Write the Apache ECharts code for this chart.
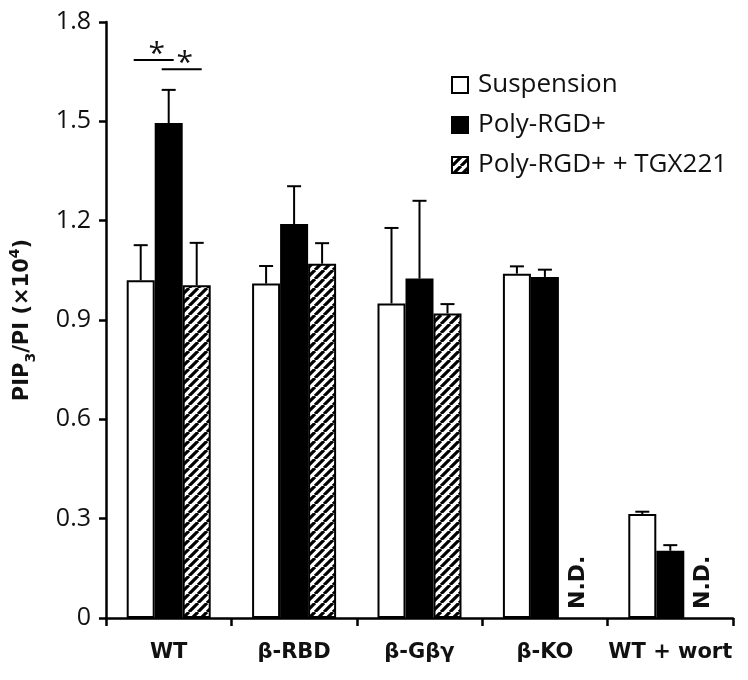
<!DOCTYPE html>
<html><head><meta charset="utf-8">
<script src="https://cdn.jsdelivr.net/npm/echarts@6/dist/echarts.min.js"></script>
<style>html,body{margin:0;padding:0;background:#fff}#c{width:748px;height:680px}</style>
</head><body><div id="c"></div>
<script>
const categories = ['WT', 'β-RBD', 'β-Gβγ', 'β-KO', 'WT + wort'];
const seriesNames = ['Suspension', 'Poly-RGD+', 'Poly-RGD+ + TGX221'];
const suspension = [1.02, 1.01, 0.95, 1.04, 0.314];
const polyRGD = [1.495, 1.19, 1.025, 1.03, 0.203];
const polyRGDTGX = [1.005, 1.07, 0.92, null, null];
const suspensionErr = [0.106, 0.053, 0.228, 0.022, 0.007];
const polyRGDErr = [0.10, 0.114, 0.235, 0.022, 0.017];
const polyRGDTGXErr = [0.128, 0.062, 0.028, null, null];
const yTickLabels = ['0', '0.3', '0.6', '0.9', '1.2', '1.5', '1.8'];
const notDetected = [[3, 2], [4, 2]];          // [category index, series index]
const significance = [[0, 0, 1, 1.685], [0, 1, 2, 1.657]]; // [category, from series, to series, y]

const BAR_W = 28;
const LIGHT = 'Open Sans';
const BOLD = 'DejaVu Sans';

function hatch(size, lw) {
  const c = document.createElement('canvas');
  c.width = size; c.height = size;
  const g = c.getContext('2d');
  g.fillStyle = '#fff'; g.fillRect(0, 0, size, size);
  g.strokeStyle = '#000'; g.lineWidth = lw;
  g.beginPath();
  for (const k of [-size, 0, size]) { g.moveTo(k, size); g.lineTo(k + size, 0); }
  g.stroke();
  return c;
}
const hatchPattern = { image: hatch(9, 3.2), repeat: 'repeat' };

const values = [suspension, polyRGD, polyRGDTGX];
const errors = [suspensionErr, polyRGDErr, polyRGDTGXErr];
const fills = ['#fff', '#000', hatchPattern];

const errData = [];
values.forEach((arr, s) => arr.forEach((v, i) => {
  if (v != null && errors[s][i] != null) errData.push([i, s, v, errors[s][i]]);
}));

const chart = echarts.init(document.getElementById('c'), null, { renderer: 'canvas' });
const option = {
  backgroundColor: '#fff',
  animation: false,
  grid: { left: 106, right: 15, top: 22, bottom: 62, containLabel: false },
  legend: {
    orient: 'vertical', left: 446, top: 67, itemWidth: 16, itemHeight: 16, itemGap: 14,
    icon: 'rect', data: seriesNames,
    textStyle: { fontFamily: LIGHT, fontSize: 26, color: '#111', padding: [0, 0, 0, 5] }
  },
  xAxis: {
    type: 'category', data: categories,
    axisLine: { lineStyle: { color: '#000', width: 2.5 } },
    axisTick: { show: true, interval: 0, length: 8, lineStyle: { color: '#000', width: 2.5 } },
    axisLabel: { interval: 0, margin: 24, fontFamily: BOLD, fontWeight: 'bold', fontSize: 21, color: '#111' }
  },
  yAxis: {
    type: 'value', min: 0, max: 1.8, interval: 0.3,
    splitLine: { show: false },
    axisLine: { show: true, lineStyle: { color: '#000', width: 2.5 } },
    axisTick: { show: true, length: 7, lineStyle: { color: '#000', width: 2.5 } },
    axisLabel: {
      margin: 15, fontFamily: LIGHT, fontSize: 25, color: '#111',
      formatter: (v) => yTickLabels[Math.round(v / 0.3)]
    },
    name: '{a|PIP}{s|3}{a|/PI (×10}{p|4}{a|)}',
    nameLocation: 'middle', nameGap: 68, nameRotate: 90,
    nameTextStyle: {
      rich: {
        a: { fontFamily: BOLD, fontWeight: 'bold', fontSize: 21, color: '#111', lineHeight: 30, verticalAlign: 'middle' },
        s: { fontFamily: BOLD, fontWeight: 'bold', fontSize: 14, color: '#111', lineHeight: 30, verticalAlign: 'bottom' },
        p: { fontFamily: BOLD, fontWeight: 'bold', fontSize: 14, color: '#111', lineHeight: 30, verticalAlign: 'top' }
      }
    }
  },
  series: [
    ...values.map((arr, s) => ({
      type: 'bar', name: seriesNames[s], data: arr,
      barWidth: BAR_W, barGap: '0%',
      itemStyle: { color: fills[s], borderColor: '#000', borderWidth: 2 },
      z: 2
    })),
    {
      type: 'custom', name: 'err', data: errData, encode: { x: 0, y: 2 }, z: 3,
      renderItem(params, api) {
        const cat = api.value(0), s = api.value(1), v = api.value(2), e = api.value(3);
        const p0 = api.coord([cat, v]);
        const p1 = api.coord([cat, v + e]);
        const x = p0[0] + (s - 1) * BAR_W;
        return {
          type: 'group', children: [
            { type: 'line', shape: { x1: x, y1: p0[1], x2: x, y2: p1[1] }, style: { stroke: '#000', lineWidth: 2 } },
            { type: 'line', shape: { x1: x - 7, y1: p1[1], x2: x + 7, y2: p1[1] }, style: { stroke: '#000', lineWidth: 2 } }
          ]
        };
      }
    },
    {
      type: 'custom', name: 'nd', data: notDetected, encode: { x: 0 }, z: 3,
      renderItem(params, api) {
        const cat = api.value(0), s = api.value(1);
        const p = api.coord([cat, 0]);
        return {
          type: 'text', x: p[0] + (s - 1) * BAR_W + 5, y: p[1] - 9, rotation: Math.PI / 2,
          style: { text: 'N.D.', fontFamily: BOLD, fontWeight: 'bold', fontSize: 22, fill: '#111', align: 'left', verticalAlign: 'middle' }
        };
      }
    },
    {
      type: 'custom', name: 'sig', data: significance, encode: { x: 0, y: 3 }, z: 3,
      renderItem(params, api) {
        const cat = api.value(0), a = api.value(1), b = api.value(2), y = api.value(3);
        const p = api.coord([cat, y]);
        const xa = p[0] + (a - 1) * BAR_W - 7;
        const xb = p[0] + (b - 1) * BAR_W + 5;
        return {
          type: 'group', children: [
            { type: 'line', shape: { x1: xa, y1: p[1], x2: xb, y2: p[1] }, style: { stroke: '#000', lineWidth: 2 } },
            { type: 'text', x: (xa + xb) / 2 + 3, y: p[1] + 9, style: { text: '*', fontFamily: LIGHT, fontSize: 30, fill: '#111', align: 'center', verticalAlign: 'bottom' } }
          ]
        };
      }
    }
  ]
};
chart.setOption(option);
</script>
</body></html>
